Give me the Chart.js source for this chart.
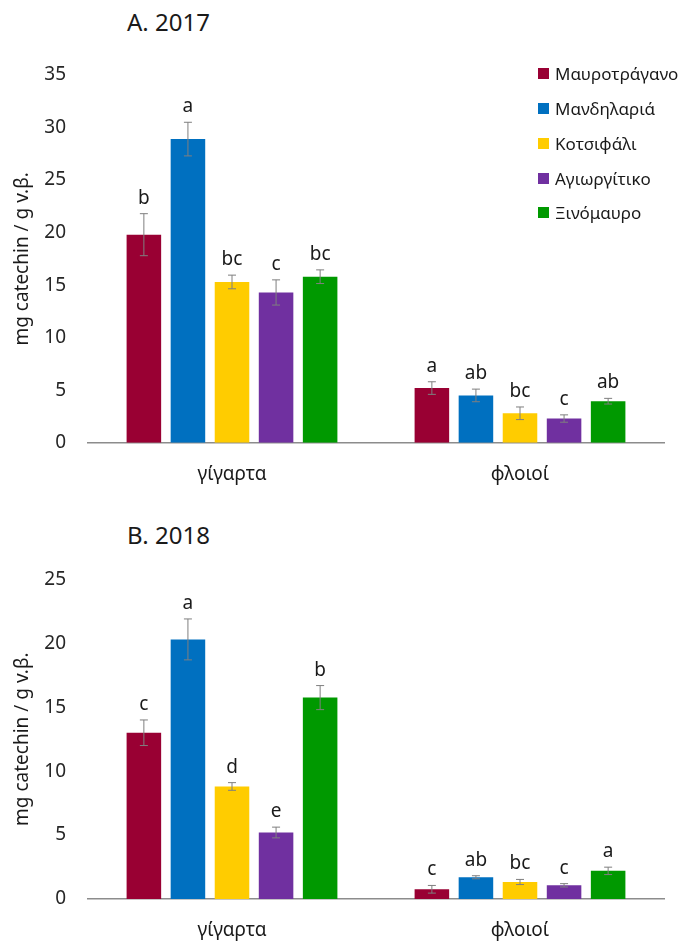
<!DOCTYPE html>
<html>
<head>
<meta charset="utf-8">
<script src="https://cdn.jsdelivr.net/npm/chart.js@4"></script>
<style>
  html, body { margin: 0; padding: 0; background: #fff; }
  #wrap { position: relative; width: 683px; height: 941px; overflow: hidden; font-family: "Noto Sans", sans-serif; }
  canvas { position: absolute; left: 0; }
  .title { position: absolute; font-size: 24px; line-height: 24px; color: #1a1a1a; white-space: nowrap; }
  #legend { position: absolute; left: 538px; top: 56.3px; }
  .lrow { display: flex; align-items: center; height: 34.8px; font-size: 17px; line-height: 17px; color: #1a1a1a; white-space: nowrap; }
  .lbox { width: 11px; height: 11px; margin-right: 6px; }
</style>
</head>
<body>
<div id="wrap">
  <div class="title" id="title1" style="left:127px; top:9.5px;"></div>
  <canvas id="c1" width="683" height="490" style="top:0;"></canvas>
  <div class="title" id="title2" style="left:127px; top:522.5px;"></div>
  <canvas id="c2" width="683" height="451" style="top:490px;"></canvas>
  <div id="legend"></div>
</div>
<script>
// ---------- DATA ----------
const categories = ['γίγαρτα', 'φλοιοί'];
const varieties = ['Μαυροτράγανο', 'Μανδηλαριά', 'Κοτσιφάλι', 'Αγιωργίτικο', 'Ξινόμαυρο'];
const yTitle = 'mg catechin / g v.β.';
const titles = ['A. 2017', 'B. 2018'];

// 2017 (order of varieties)
const seeds2017 = [19.8, 28.9, 15.3, 14.3, 15.8];
const seedsErr2017 = [2.0, 1.6, 0.65, 1.2, 0.65];
const seedsLetters2017 = ['b', 'a', 'bc', 'c', 'bc'];
const skins2017 = [5.2, 4.5, 2.8, 2.3, 3.95];
const skinsErr2017 = [0.6, 0.6, 0.6, 0.35, 0.27];
const skinsLetters2017 = ['a', 'ab', 'bc', 'c', 'ab'];

// 2018
const seeds2018 = [13.0, 20.3, 8.8, 5.2, 15.75];
const seedsErr2018 = [1.0, 1.6, 0.3, 0.42, 0.94];
const seedsLetters2018 = ['c', 'a', 'd', 'e', 'b'];
const skins2018 = [0.76, 1.7, 1.33, 1.07, 2.2];
const skinsErr2018 = [0.3, 0.12, 0.2, 0.13, 0.29];
const skinsLetters2018 = ['c', 'ab', 'bc', 'c', 'a'];

const yMax2017 = 35;
const yMax2018 = 25;
const yStep = 5;

// ---------- STYLE ----------
const colors = ['#990033', '#0070C0', '#FFCC00', '#7030A0', '#009900'];
const FONT = '"Noto Sans", sans-serif';

document.getElementById('title1').textContent = titles[0];
document.getElementById('title2').textContent = titles[1];

// legend
const leg = document.getElementById('legend');
varieties.forEach((v, i) => {
  const row = document.createElement('div');
  row.className = 'lrow';
  const b = document.createElement('div');
  b.className = 'lbox';
  b.style.background = colors[i];
  const t = document.createElement('span');
  t.textContent = v;
  row.appendChild(b); row.appendChild(t);
  leg.appendChild(row);
});

const errPlugin = {
  id: 'errbars',
  afterDatasetsDraw(chart, args, opts) {
    const ctx = chart.ctx;
    const ys = chart.scales.y;
    ctx.save();
    chart.data.datasets.forEach((ds, di) => {
      const meta = chart.getDatasetMeta(di);
      meta.data.forEach((bar, ci) => {
        const v = ds.data[ci];
        const e = opts.errors[ci][di];
        const yT = ys.getPixelForValue(v + e);
        const yB = ys.getPixelForValue(v - e);
        const x = bar.x;
        ctx.strokeStyle = '#7f7f7f';
        ctx.lineWidth = 1;
        ctx.beginPath();
        ctx.moveTo(x, yT); ctx.lineTo(x, yB);
        ctx.moveTo(x - 4, yT); ctx.lineTo(x + 4, yT);
        ctx.moveTo(x - 4, yB); ctx.lineTo(x + 4, yB);
        ctx.stroke();
        ctx.fillStyle = '#1a1a1a';
        ctx.font = '19px ' + FONT;
        ctx.textAlign = 'center';
        ctx.textBaseline = 'alphabetic';
        ctx.fillText(opts.letters[ci][di], x, yT - 10);
      });
    });
    ctx.restore();
  }
};

function makeChart(id, seeds, skins, errs, letters, yMax, padTop, xHeight) {
  const datasets = varieties.map((v, i) => ({
    label: v,
    data: [seeds[i], skins[i]],
    backgroundColor: colors[i],
    borderWidth: 0,
    categoryPercentage: 0.765,
    barPercentage: 0.784
  }));
  return new Chart(document.getElementById(id), {
    type: 'bar',
    data: { labels: categories, datasets },
    plugins: [errPlugin],
    options: {
      responsive: false,
      animation: false,
      devicePixelRatio: 1,
      layout: { padding: { top: padTop, right: 19, bottom: 0, left: 0 } },
      plugins: {
        legend: { display: false },
        tooltip: { enabled: false },
        errbars: { errors: errs, letters: letters }
      },
      scales: {
        x: {
          grid: { display: false, drawTicks: false },
          border: { display: true, color: '#8c8c8c', width: 1.5 },
          ticks: { color: '#1a1a1a', font: { family: FONT, size: 19 }, padding: 20 },
          afterFit(s) { s.height = xHeight; }
        },
        y: {
          min: 0, max: yMax,
          grid: { display: false, drawTicks: false },
          border: { display: false },
          ticks: { stepSize: yStep, color: '#262626', font: { family: FONT, size: 19 }, padding: 22 },
          title: { display: true, text: yTitle, color: '#1a1a1a', font: { family: FONT, size: 19 }, padding: { top: 11, bottom: 0 } },
          afterFit(s) { s.width = 88; }
        }
      }
    }
  });
}

makeChart('c1', seeds2017, skins2017,
  [seedsErr2017, skinsErr2017], [seedsLetters2017, skinsLetters2017],
  yMax2017, 75, 47.3);
makeChart('c2', seeds2018, skins2018,
  [seedsErr2018, skinsErr2018], [seedsLetters2018, skinsLetters2018],
  yMax2018, 89.3, 42);
</script>
</body>
</html>
